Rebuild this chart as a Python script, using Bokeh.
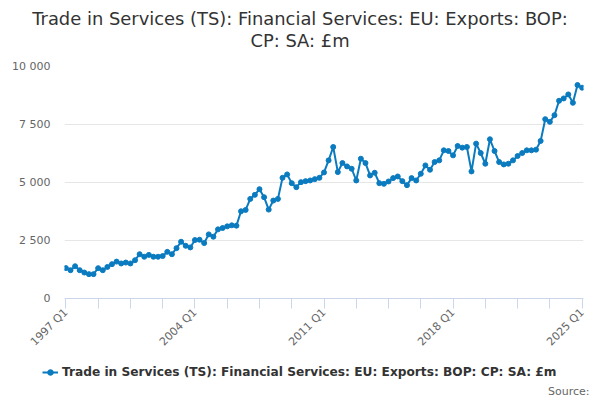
import math
from bokeh.plotting import figure
from bokeh.layouts import column
from bokeh.models import (Range1d, FixedTicker, Legend, LegendItem,
                          ColumnDataSource, Label, Plot)
from bokeh.embed import file_html
from bokeh.resources import INLINE

# ---- data -------------------------------------------------------------
quarters = [f"{y} Q{q}" for y in range(1997, 2026) for q in range(1, 5)][:113]

values = [
    1310, 1220, 1390, 1220, 1120, 1050, 1050, 1306, 1220, 1360,
    1480, 1590, 1510, 1550, 1510, 1650, 1910, 1800, 1880, 1800,
    1800, 1830, 2010, 1910, 2170, 2446, 2273, 2201, 2519, 2533,
    2389, 2764, 2663, 2980, 3038, 3110, 3154, 3139, 3760, 3818,
    4294, 4467, 4712, 4366, 3832, 4222, 4294, 5203, 5348, 4972,
    4799, 5015, 5059, 5088, 5145, 5203, 5434, 5954, 6531, 5448,
    5838, 5694, 5593, 5088, 6025, 5838, 5304, 5420, 4972, 4943,
    5044, 5189, 5261, 5059, 4886, 5189, 5088, 5376, 5737, 5550,
    5882, 5954, 6387, 6358, 6170, 6574, 6502, 6531, 5477, 6675,
    6271, 5809, 6863, 6358, 5882, 5780, 5809, 5954, 6141, 6271,
    6387, 6387, 6416, 6791, 7729, 7614, 7902, 8523, 8624, 8797,
    8436, 9201, 9086,
]

x_tick_step = 7            # quarters between tick marks
x_label_every = 28         # quarters between labelled ticks
y_ticks = [0, 2500, 5000, 7500, 10000]
y_tick_labels = ["0", "2 500", "5 000", "7 500", "10 000"]

title_line1 = "Trade in Services (TS): Financial Services: EU: Exports: BOP:"
title_line2 = "CP: SA: £m"
series_name = "Trade in Services (TS): Financial Services: EU: Exports: BOP: CP: SA: £m"
source_text = "Source:"

# ---- geometry / style ---------------------------------------------------
FONT = "DejaVu Sans"
LINE_COLOR = "#0b7bc0"
W = 600
BL, BR = 64, 17            # left / right borders of the chart frame
TOP_H, MAIN_H, BOT_H = 58, 298, 44
CAN_UNALIGN = "frame_align" in Plot.properties()


def strip(h, y0):
    f = figure(width=W, height=h, output_backend="svg", toolbar_location=None,
               x_range=Range1d(0, W), y_range=Range1d(y0 + h, y0),
               min_border=0, x_axis_type=None, y_axis_type=None)
    f.outline_line_color = None
    f.border_fill_color = None
    f.background_fill_color = None
    f.xgrid.grid_line_color = None
    f.ygrid.grid_line_color = None
    if CAN_UNALIGN:
        f.frame_align = False
    return f


# ---- title strip --------------------------------------------------------
top = strip(TOP_H, 0)
for txt, yy in ((title_line1, 18), (title_line2, 40)):
    top.add_layout(Label(x=299.5, y=yy, text=txt, text_align="center",
                         text_baseline="middle", text_font=FONT,
                         text_font_size="17.9px", text_color="#333333"))

# ---- main chart ---------------------------------------------------------
x = list(range(len(values)))
src = ColumnDataSource(dict(x=x, y=values, q=quarters))

p = figure(width=W, height=MAIN_H, output_backend="svg",
           toolbar_location=None,
           x_range=Range1d(-0.3, len(values) - 1 + 0.3),
           y_range=Range1d(0, 10000),
           min_border_left=BL, min_border_right=BR, min_border_top=8,
           min_border_bottom=52)
p.outline_line_color = None
if CAN_UNALIGN:
    p.frame_align = False

p.line("x", "y", source=src, line_color=LINE_COLOR, line_width=2)
p.scatter("x", "y", source=src, size=5, fill_color=LINE_COLOR,
          line_color=LINE_COLOR)

xt = list(range(0, len(values), x_tick_step))
p.xaxis.ticker = FixedTicker(ticks=xt, minor_ticks=[])
p.xaxis.major_label_overrides = {
    t: (quarters[t] if t % x_label_every == 0 else "") for t in xt
}
p.xaxis.major_label_orientation = math.pi / 4
p.xaxis.axis_line_color = "#ccd6eb"
p.xaxis.major_tick_line_color = "#ccd6eb"
p.xaxis.major_tick_out = 10
p.xaxis.major_tick_in = 0
p.xaxis.minor_tick_line_color = None
p.xaxis.major_label_text_font = FONT
p.xaxis.major_label_text_font_size = "11px"
p.xaxis.major_label_text_color = "#666666"
p.xaxis.major_label_standoff = 2
p.xgrid.grid_line_color = None

p.yaxis.ticker = FixedTicker(ticks=y_ticks, minor_ticks=[])
p.yaxis.major_label_overrides = dict(zip(y_ticks, y_tick_labels))
p.yaxis.axis_line_color = None
p.yaxis.major_tick_line_color = None
p.yaxis.minor_tick_line_color = None
p.yaxis.major_tick_out = 0
p.yaxis.major_label_standoff = 14
p.yaxis.major_label_text_font = FONT
p.yaxis.major_label_text_font_size = "11px"
p.yaxis.major_label_text_color = "#666666"
p.ygrid.grid_line_color = "#e6e6e6"
p.ygrid.ticker = FixedTicker(ticks=y_ticks)

# ---- legend / source strip ---------------------------------------------
bot = strip(BOT_H, TOP_H + MAIN_H)
# legend proxy renderers: one missing (NaN) point, nothing is drawn
proxy = ColumnDataSource(dict(x=[float("nan")], y=[float("nan")]))
l1 = bot.line("x", "y", source=proxy, line_color=LINE_COLOR, line_width=2)
l2 = bot.scatter("x", "y", source=proxy, size=5, fill_color=LINE_COLOR,
                 line_color=LINE_COLOR)
legend = Legend(items=[LegendItem(label=series_name, renderers=[l1, l2])],
                location=(42, 21), orientation="horizontal",
                label_text_font=FONT, label_text_font_size="12.2px",
                label_text_font_style="bold", label_text_color="#333333",
                glyph_width=16, glyph_height=14, label_height=14,
                border_line_color=None, padding=0,
                margin=0, spacing=0, label_standoff=4,
                background_fill_alpha=0)
bot.add_layout(legend, "center")
bot.add_layout(Label(x=589, y=391, text=source_text, text_align="right",
                     text_baseline="middle", text_font=FONT,
                     text_font_size="11px", text_color="#666666"))

layout = column(top, p, bot, spacing=0)
open("out.html", "w").write(file_html(layout, INLINE))
